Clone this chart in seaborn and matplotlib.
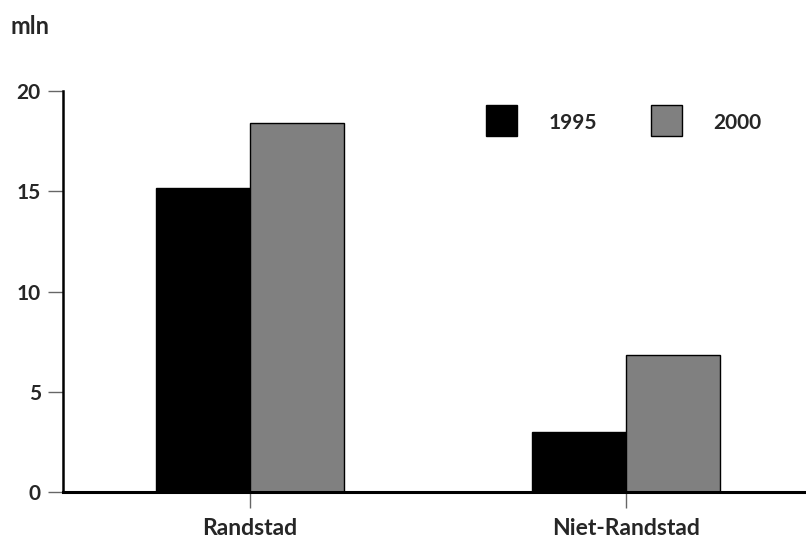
import matplotlib
matplotlib.use("Agg")
import matplotlib.pyplot as plt
import seaborn as sns
import pandas as pd

regions = ["Randstad", "Niet-Randstad"]
years = ["1995", "2000"]
values_1995 = [15.15, 3.0]
values_2000 = [18.4, 6.85]
yticks = [0, 5, 10, 15, 20]

df = pd.DataFrame({
    "regio": regions * 2,
    "jaar": [years[0]] * 2 + [years[1]] * 2,
    "waarde": values_1995 + values_2000,
})

sns.set_style("white")
plt.rcParams["font.family"] = ["Lato", "DejaVu Sans"]
plt.rcParams["font.weight"] = "bold"

fig = plt.figure(figsize=(8.06, 5.45), dpi=100)
ax = fig.add_axes([63 / 806, 53 / 545, 743 / 806, 401 / 545])

sns.barplot(data=df, x="regio", y="waarde", hue="jaar", order=regions,
            hue_order=years, palette=["black", "#808080"], width=0.5,
            edgecolor="black", linewidth=1, ax=ax)

ax.set_xlim(-0.497, 1.479)
ax.set_ylim(0, 20)
ax.set_yticks(yticks)
ax.set_yticklabels([str(v) for v in yticks], fontsize=15, fontweight="bold")
ax.set_xticks(range(len(regions)))
ax.set_xticklabels(regions, fontsize=16.5, fontweight="bold")
ax.set_xlabel("")
ax.set_ylabel("")

for side in ["top", "right"]:
    ax.spines[side].set_visible(False)
ax.spines["left"].set_color("black")
ax.spines["left"].set_linewidth(1.8)
ax.spines["bottom"].set_color("black")
ax.spines["bottom"].set_linewidth(2.2)

ax.tick_params(axis="y", left=True, length=11, width=1, color="#666666", pad=5)
ax.tick_params(axis="x", bottom=True, length=11.5, width=1, color="#666666", pad=7)

fig.text(11 / 806, 1 - 27 / 545, "mln", fontsize=17, fontweight="bold",
         va="center", ha="left")

leg = ax.legend(loc="upper left", bbox_to_anchor=(486 / 806, 1 - 109 / 545),
                bbox_transform=fig.transFigure, frameon=False, ncol=2,
                fontsize=15, handlelength=1.5, handleheight=1.55,
                handletextpad=1.5, columnspacing=2.6, borderpad=0,
                borderaxespad=0)
for t in leg.get_texts():
    t.set_fontweight("bold")
for h in leg.legend_handles:
    h.set_height(h.get_width())
    h.set_y(-5)

fig.savefig("out.png", dpi=100)
